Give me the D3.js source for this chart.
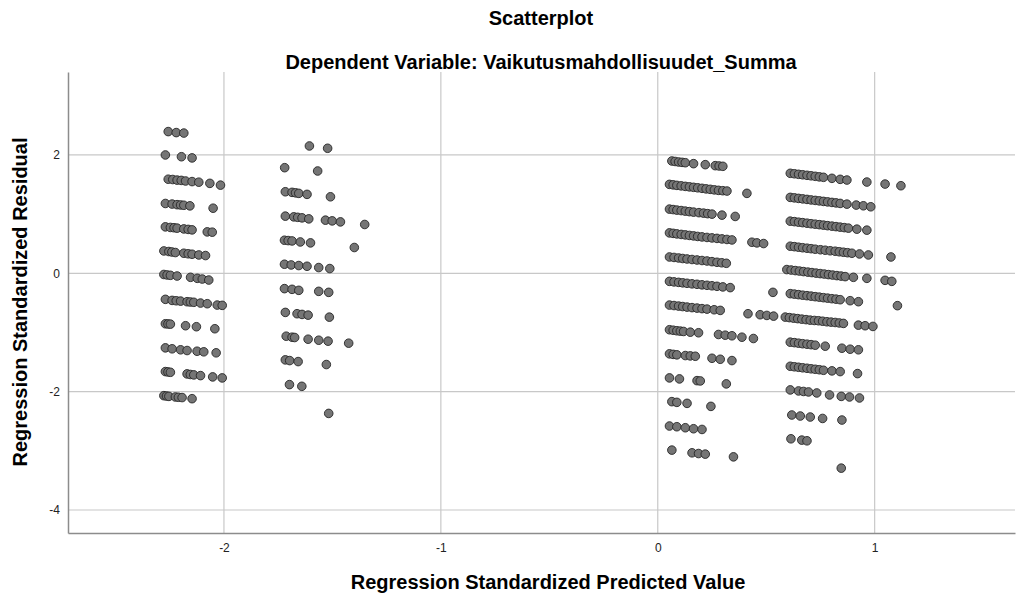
<!DOCTYPE html>
<html>
<head>
<meta charset="utf-8">
<script src="https://cdn.jsdelivr.net/npm/d3@7"></script>
<style>
  body { margin: 0; background: #fff; }
  svg text { font-family: "Liberation Sans", Arial, sans-serif; }
</style>
</head>
<body>
<svg id="chart" width="1029" height="599"></svg>
<script>
// tick values on both axes
const xTicks = [-2, -1, 0, 1];
const yTicks = [-4, -2, 0, 2];

// points: [predicted, residual]
// left group, around -2.2
const groupA = [
  [-2.257, 2.395], [-2.220, 2.378], [-2.185, 2.37],
  [-2.27, 2.0], [-2.196, 1.97], [-2.147, 1.95],
  [-2.257, 1.59], [-2.236, 1.585], [-2.216, 1.575], [-2.197, 1.57], [-2.177, 1.56], [-2.147, 1.55], [-2.116, 1.54], [-2.065, 1.52], [-2.016, 1.49],
  [-2.27, 1.18], [-2.239, 1.17], [-2.216, 1.16], [-2.2, 1.155], [-2.185, 1.15], [-2.157, 1.14], [-2.05, 1.10],
  [-2.27, 0.785], [-2.247, 0.775], [-2.23, 0.77], [-2.216, 0.763], [-2.185, 0.75], [-2.165, 0.742], [-2.147, 0.734], [-2.077, 0.70], [-2.054, 0.695],
  [-2.277, 0.378], [-2.254, 0.368], [-2.24, 0.36], [-2.224, 0.351], [-2.185, 0.339], [-2.165, 0.33], [-2.147, 0.322], [-2.116, 0.31], [-2.085, 0.30],
  [-2.277, -0.02], [-2.262, -0.028], [-2.247, -0.034], [-2.216, -0.046], [-2.154, -0.068], [-2.123, -0.085], [-2.1, -0.097], [-2.07, -0.114],
  [-2.27, -0.44], [-2.239, -0.458], [-2.22, -0.464], [-2.2, -0.47], [-2.17, -0.48], [-2.155, -0.485], [-2.139, -0.49], [-2.108, -0.503], [-2.077, -0.514], [-2.031, -0.537], [-2.008, -0.542],
  [-2.27, -0.853], [-2.258, -0.856], [-2.247, -0.859], [-2.177, -0.886], [-2.127, -0.903], [-2.042, -0.937],
  [-2.27, -1.26], [-2.239, -1.276], [-2.2, -1.293], [-2.17, -1.305], [-2.124, -1.317], [-2.093, -1.327], [-2.036, -1.344],
  [-2.27, -1.661], [-2.258, -1.667], [-2.247, -1.673], [-2.17, -1.70], [-2.155, -1.71], [-2.139, -1.717], [-2.108, -1.729], [-2.052, -1.751], [-2.008, -1.768],
  [-2.277, -2.068], [-2.265, -2.074], [-2.254, -2.08], [-2.224, -2.09], [-2.21, -2.095], [-2.193, -2.10], [-2.147, -2.119]
];

// second left group, around -1.6
const groupB = [
  [-1.606, 2.152], [-1.522, 2.113],
  [-1.72, 1.785], [-1.568, 1.729],
  [-1.717, 1.378], [-1.686, 1.368], [-1.67, 1.36], [-1.655, 1.351], [-1.617, 1.334], [-1.509, 1.293],
  [-1.717, 0.966], [-1.678, 0.954], [-1.66, 0.946], [-1.64, 0.937], [-1.609, 0.92], [-1.532, 0.898], [-1.501, 0.886], [-1.463, 0.869], [-1.351, 0.825],
  [-1.721, 0.559], [-1.704, 0.553], [-1.686, 0.547], [-1.648, 0.53], [-1.601, 0.514], [-1.399, 0.436],
  [-1.721, 0.153], [-1.69, 0.141], [-1.655, 0.131], [-1.617, 0.119], [-1.563, 0.097], [-1.512, 0.08],
  [-1.721, -0.259], [-1.686, -0.271], [-1.655, -0.288], [-1.563, -0.305], [-1.517, -0.322],
  [-1.717, -0.661], [-1.663, -0.683], [-1.64, -0.695], [-1.612, -0.707], [-1.514, -0.741],
  [-1.713, -1.063], [-1.686, -1.08], [-1.674, -1.085], [-1.612, -1.114], [-1.563, -1.131], [-1.52, -1.147], [-1.425, -1.181],
  [-1.717, -1.463], [-1.697, -1.475], [-1.658, -1.492], [-1.528, -1.542],
  [-1.698, -1.881], [-1.641, -1.91],
  [-1.517, -2.368]
];

// right group, around 0.2
const groupC = [
  [0.065, 1.898], [0.08, 1.89], [0.096, 1.881], [0.112, 1.875], [0.127, 1.869], [0.165, 1.853], [0.219, 1.836], [0.265, 1.819], [0.283, 1.814], [0.3, 1.808],
  [0.054, 1.503], [0.071, 1.495], [0.088, 1.486], [0.108, 1.478], [0.127, 1.469], [0.146, 1.461], [0.165, 1.453], [0.184, 1.445], [0.204, 1.436], [0.223, 1.427], [0.242, 1.419], [0.261, 1.41], [0.28, 1.402], [0.3, 1.396], [0.319, 1.39], [0.411, 1.351],
  [0.054, 1.085], [0.071, 1.077], [0.088, 1.068], [0.108, 1.06], [0.127, 1.051], [0.146, 1.042], [0.165, 1.034], [0.19, 1.025], [0.211, 1.017], [0.23, 1.008], [0.25, 1.0], [0.296, 0.983], [0.357, 0.961],
  [0.054, 0.683], [0.071, 0.675], [0.088, 0.666], [0.108, 0.657], [0.127, 0.649], [0.146, 0.64], [0.165, 0.632], [0.184, 0.623], [0.204, 0.615], [0.227, 0.606], [0.25, 0.598], [0.273, 0.59], [0.296, 0.581], [0.319, 0.572], [0.342, 0.564], [0.434, 0.525], [0.457, 0.514], [0.488, 0.503],
  [0.054, 0.276], [0.075, 0.268], [0.096, 0.259], [0.115, 0.25], [0.135, 0.242], [0.158, 0.233], [0.181, 0.225], [0.204, 0.216], [0.227, 0.208], [0.25, 0.197], [0.273, 0.186], [0.295, 0.178], [0.316, 0.169],
  [0.054, -0.136], [0.075, -0.145], [0.096, -0.153], [0.115, -0.161], [0.135, -0.169], [0.158, -0.178], [0.181, -0.186], [0.204, -0.195], [0.227, -0.203], [0.25, -0.211], [0.273, -0.22], [0.3, -0.23], [0.334, -0.242], [0.531, -0.322],
  [0.054, -0.537], [0.075, -0.545], [0.096, -0.554], [0.115, -0.562], [0.135, -0.571], [0.158, -0.58], [0.181, -0.588], [0.204, -0.597], [0.227, -0.605], [0.26, -0.616], [0.288, -0.627], [0.416, -0.683], [0.472, -0.70], [0.503, -0.712], [0.534, -0.724],
  [0.054, -0.954], [0.071, -0.962], [0.088, -0.971], [0.104, -0.977], [0.119, -0.983], [0.15, -0.995], [0.188, -1.005], [0.28, -1.034], [0.311, -1.046], [0.342, -1.056], [0.388, -1.08], [0.441, -1.102],
  [0.054, -1.361], [0.071, -1.37], [0.088, -1.378], [0.127, -1.39], [0.15, -1.396], [0.173, -1.402], [0.25, -1.436], [0.288, -1.453], [0.342, -1.475],
  [0.054, -1.768], [0.1, -1.785], [0.181, -1.814], [0.196, -1.819], [0.316, -1.869],
  [0.065, -2.169], [0.088, -2.181], [0.135, -2.198], [0.245, -2.249],
  [0.054, -2.581], [0.088, -2.593], [0.127, -2.61], [0.165, -2.627], [0.204, -2.639],
  [0.065, -2.988], [0.158, -3.034], [0.188, -3.046], [0.219, -3.056], [0.349, -3.102]
];

// right group, around 0.8
const groupD = [
  [0.611, 1.69], [0.63, 1.682], [0.649, 1.673], [0.668, 1.665], [0.688, 1.656], [0.707, 1.648], [0.726, 1.639], [0.745, 1.63], [0.764, 1.622], [0.803, 1.605], [0.841, 1.588], [0.872, 1.576], [0.964, 1.542], [1.048, 1.508], [1.121, 1.48],
  [0.611, 1.283], [0.63, 1.275], [0.649, 1.266], [0.668, 1.258], [0.688, 1.249], [0.707, 1.24], [0.726, 1.232], [0.745, 1.224], [0.764, 1.215], [0.783, 1.207], [0.803, 1.198], [0.822, 1.19], [0.841, 1.181], [0.872, 1.169], [0.915, 1.153], [0.948, 1.141], [0.982, 1.124],
  [0.611, 0.881], [0.63, 0.873], [0.649, 0.864], [0.668, 0.856], [0.688, 0.847], [0.707, 0.838], [0.726, 0.83], [0.745, 0.822], [0.764, 0.814], [0.783, 0.805], [0.803, 0.797], [0.822, 0.789], [0.841, 0.78], [0.86, 0.772], [0.879, 0.763], [0.918, 0.746], [0.964, 0.729],
  [0.611, 0.458], [0.63, 0.45], [0.649, 0.441], [0.668, 0.432], [0.688, 0.424], [0.707, 0.416], [0.726, 0.407], [0.75, 0.398], [0.772, 0.39], [0.795, 0.381], [0.818, 0.373], [0.837, 0.364], [0.856, 0.356], [0.875, 0.348], [0.895, 0.339], [0.93, 0.327], [0.971, 0.31], [1.075, 0.276],
  [0.595, 0.063], [0.615, 0.055], [0.634, 0.046], [0.653, 0.038], [0.672, 0.029], [0.692, 0.02], [0.711, 0.012], [0.73, 0.003], [0.749, -0.005], [0.768, -0.013], [0.787, -0.022], [0.806, -0.03], [0.826, -0.039], [0.845, -0.047], [0.864, -0.056], [0.902, -0.068], [0.964, -0.085], [1.048, -0.119], [1.079, -0.136],
  [0.611, -0.344], [0.63, -0.352], [0.649, -0.361], [0.668, -0.37], [0.688, -0.378], [0.707, -0.386], [0.726, -0.395], [0.745, -0.403], [0.764, -0.412], [0.783, -0.42], [0.803, -0.429], [0.822, -0.437], [0.841, -0.446], [0.887, -0.463], [0.925, -0.48], [1.105, -0.547],
  [0.588, -0.74], [0.607, -0.749], [0.626, -0.758], [0.645, -0.766], [0.664, -0.775], [0.684, -0.783], [0.703, -0.792], [0.722, -0.797], [0.741, -0.802], [0.76, -0.81], [0.78, -0.819], [0.799, -0.825], [0.818, -0.831], [0.837, -0.839], [0.856, -0.847], [0.925, -0.876], [0.956, -0.886], [0.992, -0.898],
  [0.611, -1.164], [0.63, -1.172], [0.649, -1.181], [0.668, -1.19], [0.688, -1.198], [0.707, -1.206], [0.726, -1.215], [0.772, -1.232], [0.849, -1.266], [0.887, -1.283], [0.925, -1.293],
  [0.611, -1.571], [0.63, -1.58], [0.649, -1.588], [0.668, -1.597], [0.688, -1.605], [0.707, -1.614], [0.726, -1.622], [0.745, -1.63], [0.764, -1.639], [0.803, -1.649], [0.841, -1.661], [0.921, -1.695],
  [0.611, -1.971], [0.649, -1.988], [0.672, -1.997], [0.695, -2.005], [0.733, -2.022], [0.792, -2.056], [0.846, -2.08], [0.884, -2.09], [0.93, -2.107],
  [0.618, -2.395], [0.657, -2.412], [0.703, -2.429], [0.76, -2.453], [0.849, -2.48],
  [0.614, -2.797], [0.664, -2.819], [0.688, -2.831],
  [0.846, -3.293]
];

const svg = d3.select("#chart");
const plotLeft = 68, plotRight = 1015, plotTop = 72, plotBottom = 533;

const x = d3.scaleLinear().domain([-2.719, 1.647]).range([plotLeft, plotRight]);
const y = d3.scaleLinear().domain([-4.389, 3.402]).range([plotBottom, plotTop]);

// gridlines
svg.append("g")
    .selectAll("line")
    .data(xTicks)
    .enter()
    .append("line")
    .attr("x1", d => x(d)).attr("x2", d => x(d))
    .attr("y1", plotTop).attr("y2", plotBottom)
    .style("stroke", "#c8c8c8")
    .style("stroke-width", 1.2);
svg.append("g")
    .selectAll("line")
    .data(yTicks)
    .enter()
    .append("line")
    .attr("x1", plotLeft).attr("x2", plotRight)
    .attr("y1", d => y(d)).attr("y2", d => y(d))
    .style("stroke", "#c8c8c8")
    .style("stroke-width", 1.2);

// axes, labels with a plain hyphen like the original
const fmt = d => String(d);
const xAxis = svg.append("g")
    .attr("transform", `translate(0,${plotBottom})`)
    .call(d3.axisBottom(x).tickValues(xTicks).tickSize(0).tickPadding(10).tickFormat(fmt));
const yAxis = svg.append("g")
    .attr("transform", `translate(${plotLeft},0)`)
    .call(d3.axisLeft(y).tickValues(yTicks).tickSize(0).tickPadding(8).tickFormat(fmt));
[xAxis, yAxis].forEach(a => {
  a.select(".domain").style("stroke", "#8c8c8c").style("stroke-width", 1.5);
  a.selectAll("text")
      .style("font-size", "12px")
      .style("fill", "#222")
      .style("font-family", "'Liberation Sans', Arial, sans-serif");
});

// points
const allPoints = groupA.concat(groupB, groupC, groupD);
svg.append("g")
    .selectAll("circle")
    .data(allPoints)
    .enter()
    .append("circle")
    .attr("cx", d => x(d[0]))
    .attr("cy", d => y(d[1]))
    .attr("r", 4.3)
    .style("fill", "#757575")
    .style("stroke", "#262626")
    .style("stroke-width", 0.9);

// titles
svg.append("text")
    .attr("x", 541).attr("y", 25)
    .attr("text-anchor", "middle")
    .style("font-size", "20px").style("font-weight", "bold")
    .text("Scatterplot");
svg.append("text")
    .attr("x", 541).attr("y", 69)
    .attr("text-anchor", "middle")
    .style("font-size", "20px").style("font-weight", "bold")
    .text("Dependent Variable: Vaikutusmahdollisuudet_Summa");
svg.append("text")
    .attr("x", 548).attr("y", 589)
    .attr("text-anchor", "middle")
    .style("font-size", "20px").style("font-weight", "bold")
    .text("Regression Standardized Predicted Value");
svg.append("text")
    .attr("transform", "translate(27,302) rotate(-90)")
    .attr("text-anchor", "middle")
    .style("font-size", "20px").style("font-weight", "bold")
    .text("Regression Standardized Residual");
</script>
</body>
</html>
